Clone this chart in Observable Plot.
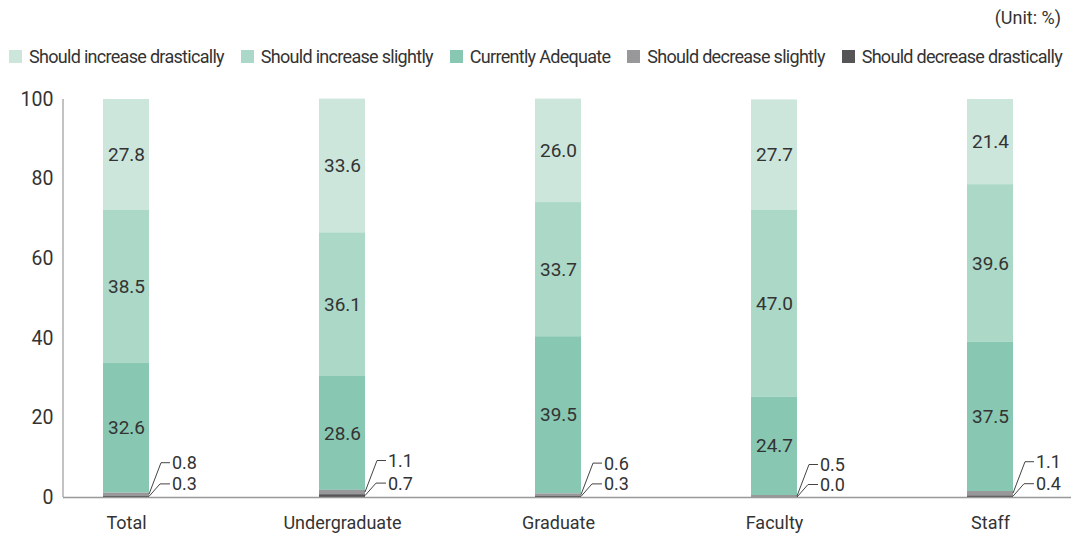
<!DOCTYPE html>
<html>
<head>
<meta charset="utf-8">
<script src="https://cdn.jsdelivr.net/npm/d3@7"></script>
<script src="https://cdn.jsdelivr.net/npm/@observablehq/plot@0.6"></script>
<style>
  html, body { margin: 0; padding: 0; background: #fff; }
  body { width: 1071px; font-family: Roboto, "Noto Sans", sans-serif; color: #333; }
  #header { position: relative; height: 80px; }
  #unit { position: absolute; top: 7px; right: 10px; font-size: 18px; line-height: 22px; }
  #legend { position: absolute; top: 45px; left: 9px; right: 9px; height: 22px; display: flex; justify-content: space-between; align-items: center; }
  .item { display: flex; align-items: center; font-size: 18px; letter-spacing: -0.7px; white-space: nowrap; }
  .sw { width: 13px; height: 13px; margin-right: 7px; display: inline-block; }
</style>
</head>
<body>
<div id="header">
  <div id="unit">(Unit: %)</div>
  <div id="legend"></div>
</div>
<div id="chart"></div>
<script>
const categories = ["Total", "Undergraduate", "Graduate", "Faculty", "Staff"];
const responses = ["Should increase drastically", "Should increase slightly", "Currently Adequate", "Should decrease slightly", "Should decrease drastically"];
const increaseDrastically = [27.8, 33.6, 26.0, 27.7, 21.4];
const increaseSlightly = [38.5, 36.1, 33.7, 47.0, 39.6];
const currentlyAdequate = [32.6, 28.6, 39.5, 24.7, 37.5];
const decreaseSlightly = [0.8, 1.1, 0.6, 0.5, 1.1];
const decreaseDrastically = [0.3, 0.7, 0.3, 0.0, 0.4];
const yTicks = [0, 20, 40, 60, 80, 100];
const colors = ["#cce6dc", "#abd8c7", "#88c8b2", "#98989b", "#555557"];

const seriesValues = [increaseDrastically, increaseSlightly, currentlyAdequate, decreaseSlightly, decreaseDrastically];
const data = [];
categories.forEach((c, i) => {
  responses.forEach((r, j) => data.push({category: c, response: r, value: seriesValues[j][i]}));
});

// legend
const legend = document.getElementById("legend");
responses.forEach((r, j) => {
  const it = document.createElement("div");
  it.className = "item";
  it.innerHTML = `<span class="sw" style="background:${colors[j]}"></span><span>${r}</span>`;
  legend.appendChild(it);
});

const stackOrder = responses.slice().reverse();

function leaders(index, scales, values, dims) {
  const x = scales.x, y = scales.y;
  let bw = x && x.bandwidth;
  if (typeof bw === "function") bw = bw();
  if (!(bw > 0) && scales.scales && scales.scales.x) bw = scales.scales.x.bandwidth;
  if (!(bw > 0)) bw = 46;
  const g = d3.create("svg:g").attr("text-anchor", "start");
  // vertical axis line
  g.append("line")
    .attr("x1", dims.marginLeft).attr("x2", dims.marginLeft)
    .attr("y1", y(100)).attr("y2", y(0))
    .attr("stroke", "#999").attr("stroke-width", 1.2);
  categories.forEach((c, i) => {
    const xr = x(c) + bw;
    const dd = decreaseDrastically[i], ds = decreaseSlightly[i];
    const items = [
      {mid: y(dd + ds / 2), rise: 31.5, bend: 12, v: ds},
      {mid: y(dd / 2), rise: 12.5, bend: 11, v: dd}
    ];
    items.forEach(it => {
      const ly = it.mid - it.rise;
      g.append("polyline")
        .attr("points", `${xr},${it.mid} ${xr + it.bend},${ly} ${xr + 21},${ly}`)
        .attr("fill", "none").attr("stroke", "#444").attr("stroke-width", 1);
      g.append("text")
        .attr("x", xr + 23).attr("y", ly).attr("dy", "0.36em")
        .attr("text-anchor", "start")
        .attr("fill", "#333").attr("font-size", "18px")
        .text(it.v.toFixed(1));
    });
  });
  return g.node();
}

const chart = Plot.plot({
  width: 1071,
  height: 456,
  marginTop: 19,
  marginBottom: 39,
  marginLeft: 63,
  marginRight: 0,
  style: {fontFamily: "Roboto, 'Noto Sans', sans-serif", fontSize: "18px", color: "#333", background: "#fff"},
  x: {domain: categories, range: [63, 1053], paddingInner: 0.787, paddingOuter: 0.185, label: null},
  y: {domain: [0, 100], label: null},
  color: {domain: responses, range: colors},
  marks: [
    Plot.axisY({ticks: yTicks, tickSize: 0, tickPadding: 10, fontSize: 19.5, label: null}),
    Plot.axisX({tickSize: 0, tickPadding: 19, fontSize: 18, label: null}),
    Plot.barY(data, Plot.stackY({x: "category", y: "value", z: "response", fill: "response", order: stackOrder})),
    Plot.text(data, Plot.stackY({x: "category", y: "value", z: "response", order: stackOrder,
      text: d => d.value >= 5 ? d.value.toFixed(1) : "", fill: "#333", fontSize: 19})),
    Plot.ruleY([0], {stroke: "#999", strokeWidth: 1.5}),
    leaders
  ]
});
document.getElementById("chart").appendChild(chart);
</script>
</body>
</html>
